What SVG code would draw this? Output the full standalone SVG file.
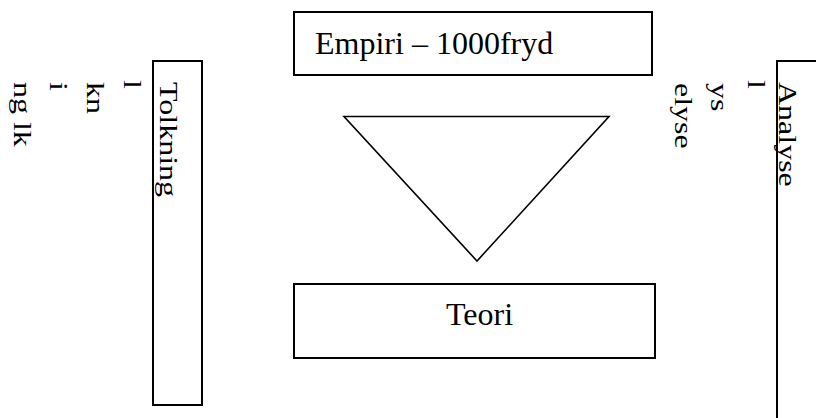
<svg xmlns="http://www.w3.org/2000/svg" width="816" height="418" viewBox="0 0 816 418">
<style>
.box{fill:#fff;stroke:#000;stroke-width:2}
.tri{fill:#fff;stroke:#000;stroke-width:1.6;stroke-linejoin:miter}
text{font-family:"Liberation Serif","Times New Roman",serif;font-size:32px;fill:#000}
</style>
<rect width="816" height="418" fill="#fff"/>
<g id="empiri">
<rect class="box" x="294" y="12" width="358" height="63"/>
<text x="315" y="54">Empiri – 1000fryd</text>
</g>
<g id="triangle">
<polygon class="tri" points="344,116.5 609,116.5 477,261"/>
</g>
<g id="teori">
<rect class="box" x="294" y="284" width="361" height="74"/>
<text x="446" y="325">Teori</text>
</g>
<g id="tolkning">
<rect class="box" x="153" y="61" width="49" height="344"/>
<text transform="translate(160,82) rotate(90) scale(1,0.82)">Tolkning</text>
</g>
<g id="tolkning-fragments">
<text transform="translate(124,80) rotate(90) scale(1,0.82)">l</text>
<text transform="translate(87,82) rotate(90) scale(1,0.82)">kn</text>
<text transform="translate(50,82) rotate(90) scale(1,0.82)">i</text>
<text transform="translate(14,82) rotate(90) scale(1,0.82)">ng lk</text>
</g>
<g id="analyse">
<rect class="box" x="777" y="61" width="60" height="370"/>
<text transform="translate(779,82) rotate(90) scale(1,0.82)">Analyse</text>
</g>
<g id="analyse-fragments">
<text transform="translate(748,80) rotate(90) scale(1,0.82)">l</text>
<text transform="translate(711,83) rotate(90) scale(1,0.82)">ys</text>
<text transform="translate(675,83) rotate(90) scale(1,0.82)">elyse</text>
</g>
<g id="connectors"></g>
</svg>
